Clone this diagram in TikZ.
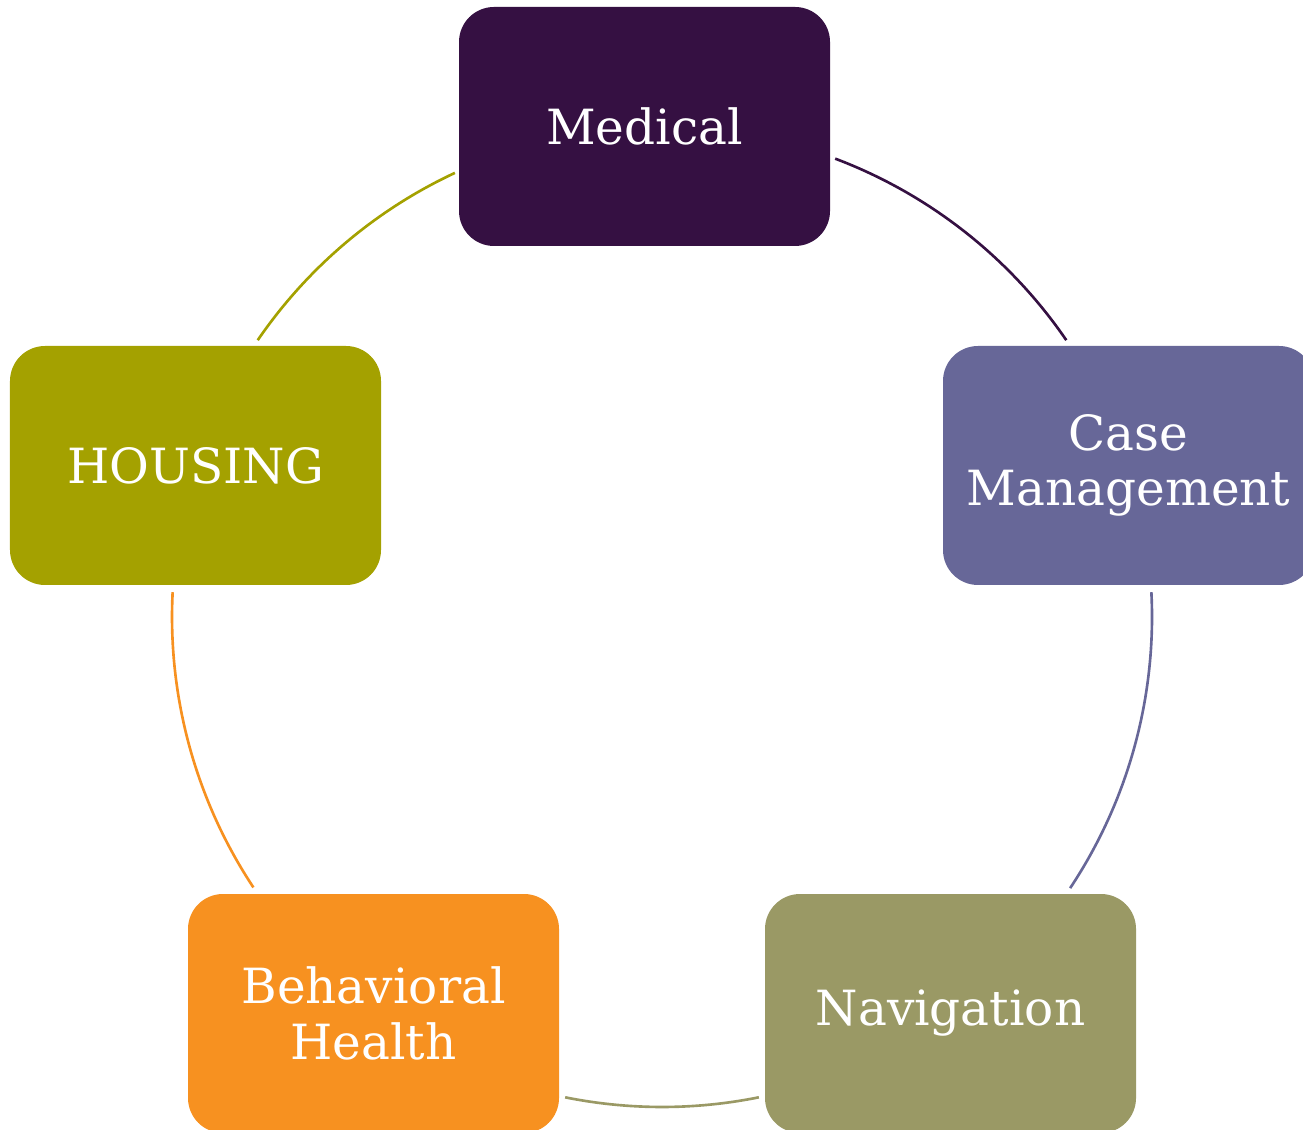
\documentclass[tikz,border=0pt]{standalone}
\usepackage{fontspec}
\setmainfont{DejaVu Serif}
\definecolor{medpurple}{HTML}{351042}
\definecolor{casepurple}{HTML}{676798}
\definecolor{navolive}{HTML}{9A9965}
\definecolor{behavorange}{HTML}{F79120}
\definecolor{housingolive}{HTML}{A4A100}
\begin{document}
\begin{tikzpicture}[
    box/.style={rounded corners=3.5mm,minimum width=3.71cm,minimum height=2.39cm,text=white,align=center,font=\fontsize{13.8}{15.8}\selectfont},
    ring/.style={line width=0.75pt}]
    \clip (0,0) rectangle (13.03,-11.30);

    \node[box,fill=medpurple] (medical) at (6.445,-1.265) {Medical};
    \node[box,fill=casepurple] (case) at (11.285,-4.655) {Case\\Management};
    \node[box,fill=navolive] (nav) at (9.505,-10.135) {Navigation};
    \node[box,fill=behavorange] (behav) at (3.735,-10.135) {Behavioral\\Health};
    \node[box,fill=housingolive] (housing) at (1.955,-4.655) {HOUSING};

    \coordinate (hub) at (6.62,-6.17);
    \foreach \a\b\c in {69.3/34.4/medpurple,2.9/-33.6/casepurple,-78.6/-101.4/navolive,213.5/177.1/behavorange,145.6/115/housingolive} {
      \draw[ring,draw=\c] (hub) ++(\a:4.9) arc[start angle=\a,end angle=\b,radius=4.9];
    }
  \end{tikzpicture}
\end{document}
